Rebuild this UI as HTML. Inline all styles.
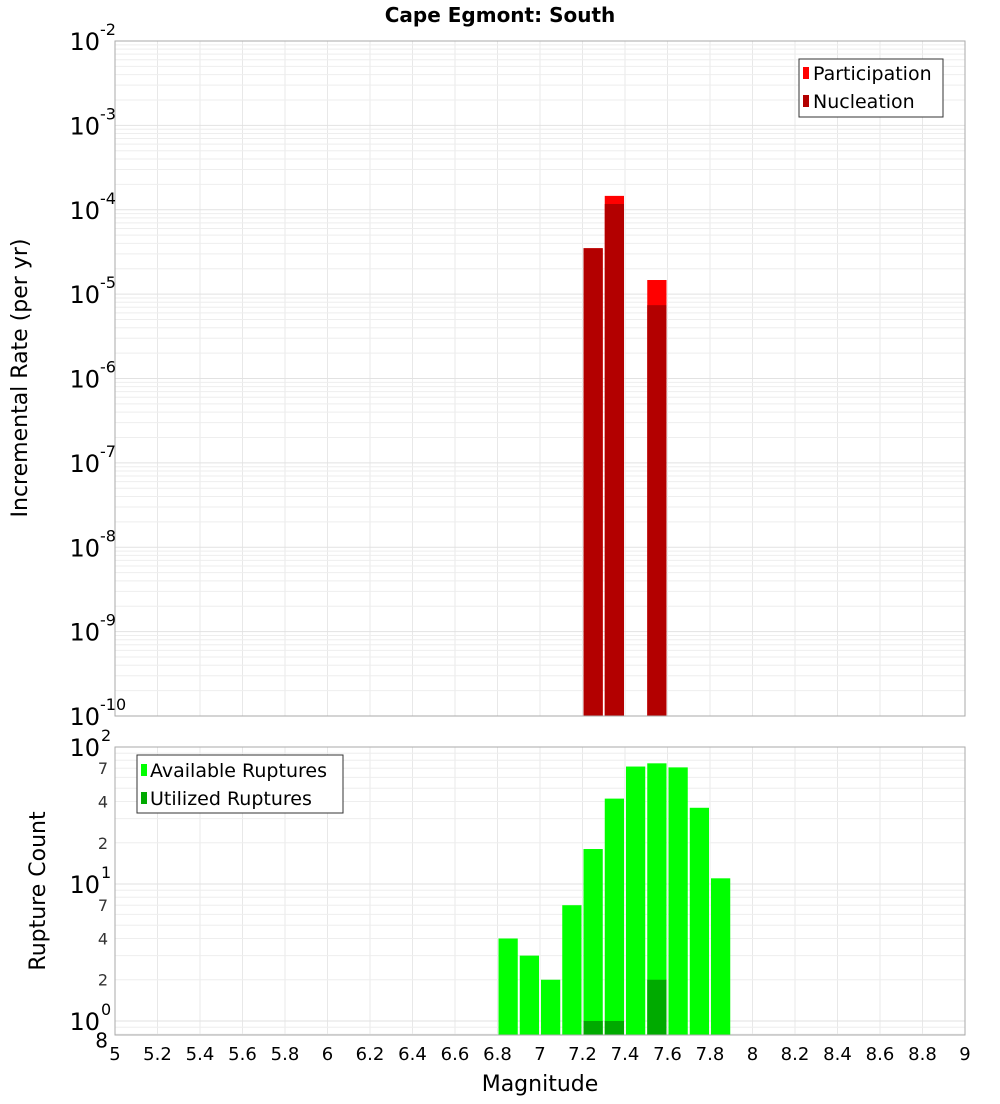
<!DOCTYPE html>
<html><head><meta charset="utf-8"><style>
body{margin:0;background:#fff;font-family:"DejaVu Sans","Liberation Sans",sans-serif;}
svg text{font-family:"DejaVu Sans","Liberation Sans",sans-serif;}
</style></head><body>
<svg id="chart" width="1000" height="1100" xmlns="http://www.w3.org/2000/svg">
<rect width="1000" height="1100" fill="#fff"/>
<text x="500" y="22" text-anchor="middle" font-size="20" font-weight="bold">Cape Egmont: South</text>
<g id="topPlot"></g>
<g id="botPlot"></g>
<text transform="translate(27,378) rotate(-90)" text-anchor="middle" font-size="22">Incremental Rate (per yr)</text>
<text transform="translate(45,891) rotate(-90)" text-anchor="middle" font-size="22">Rupture Count</text>
<text x="540" y="1091" text-anchor="middle" font-size="22">Magnitude</text>
<g id="legends">
<g>
<rect x="799" y="59" width="144" height="58" fill="#fff" stroke="#333"/>
<rect x="803" y="67" width="6" height="12" fill="#ff0000"/>
<text x="813" y="80" font-size="19">Participation</text>
<rect x="803" y="95" width="6" height="12" fill="#b30000"/>
<text x="813" y="108" font-size="19">Nucleation</text>
</g>
<g>
<rect x="137" y="755" width="206" height="58" fill="#fff" stroke="#333"/>
<rect x="141" y="764" width="6" height="12" fill="#00ff00"/>
<text x="150" y="777" font-size="19">Available Ruptures</text>
<rect x="141" y="792" width="6" height="12" fill="#00aa00"/>
<text x="150" y="805" font-size="19">Utilized Ruptures</text>
</g>
</g>
</svg>
<script>
const NS="http://www.w3.org/2000/svg";
const rateMags=[7.25,7.35,7.55];
const participation=[3.5e-5,1.46e-4,1.47e-5];
const nucleation=[3.5e-5,1.17e-4,7.4e-6];
const countMags=[6.85,6.95,7.05,7.15,7.25,7.35,7.45,7.55,7.65,7.75,7.85];
const available=[4,3,2,7,18,42,72,76,71,36,11];
const utilizedMags=[7.25,7.35,7.55];
const utilized=[1,1,2];
const xTicks=["5","5.2","5.4","5.6","5.8","6","6.2","6.4","6.6","6.8","7","7.2","7.4","7.6","7.8","8","8.2","8.4","8.6","8.8","9"];

const X0=115,X1=965;
const xs=m=>X0+(m-5)/4*(X1-X0);
const T0=41,T1=716;
const yTop=v=>T0+(-2-Math.log10(v))/8*(T1-T0);
const B0=747,B1=1035;
const yBot=v=>B0+(2-Math.log10(v))/(2-Math.log10(0.79))*(B1-B0);
function mk(p,tag,a,txt){const e=document.createElementNS(NS,tag);for(const k in a)e.setAttribute(k,a[k]);if(txt!==undefined)e.textContent=txt;p.appendChild(e);return e;}
const topG=document.getElementById('topPlot'),botG=document.getElementById('botPlot'),svgEl=document.getElementById('chart');
function grids(g,y0,y1,yf,lo,hi,minLo){
  for(let i=0;i<xTicks.length;i++){const x=xs(+xTicks[i]);mk(g,'line',{x1:x,x2:x,y1:y0,y2:y1,stroke:'#e8e8e8'});}
  for(let d=lo;d<hi;d++){for(let k=1;k<10;k++){const v=k*Math.pow(10,d);if(v<minLo)continue;const y=yf(v);if(y<y0||y>y1)continue;mk(g,'line',{x1:X0,x2:X1,y1:y,y2:y,stroke:k==1?'#e2e2e2':'#eeeeee'});}}
}
grids(topG,T0,T1,yTop,-10,-2,0);
grids(botG,B0,B1,yBot,-1,2,0.79);
const bw=xs(5.1)-X0-2;
for(let i=0;i<rateMags.length;i++){
  const x=xs(rateMags[i]-0.05)+1;
  const r=mk(topG,'rect',{x:x,y:yTop(participation[i]),width:bw,height:T1-yTop(participation[i]),fill:'#ff0000'});
  
  
  const n=mk(topG,'rect',{x:x,y:yTop(nucleation[i]),width:bw,height:T1-yTop(nucleation[i]),fill:'#b30000'});
  
  
}
for(let i=0;i<countMags.length;i++){
  const x=xs(countMags[i]-0.05)+1;
  const r=mk(botG,'rect',{x:x,y:yBot(available[i]),width:bw,height:B1-yBot(available[i]),fill:'#00ff00'});
  
  
}
for(let i=0;i<utilizedMags.length;i++){
  const x=xs(utilizedMags[i]-0.05)+1;
  const r=mk(botG,'rect',{x:x,y:yBot(utilized[i]),width:bw,height:B1-yBot(utilized[i]),fill:'#00aa00'});
  
  
}
mk(topG,'rect',{x:X0,y:T0,width:X1-X0,height:T1-T0,fill:'none',stroke:'#aaa'});
mk(botG,'rect',{x:X0,y:B0,width:X1-X0,height:B1-B0,fill:'none',stroke:'#aaa'});
for(let d=-10;d<=-2;d++){
  const y=yTop(Math.pow(10,d));
  const t=mk(svgEl,'text',{x:100,y:y+9,'text-anchor':'end','font-size':24},'10');
  
  
  mk(svgEl,'text',{x:100,y:y-6,'font-size':16},String(d));
}
for(let d=0;d<=2;d++){
  const y=yBot(Math.pow(10,d));
  const t=mk(svgEl,'text',{x:100,y:y+9,'text-anchor':'end','font-size':24},'10');
  
  
  mk(svgEl,'text',{x:101,y:y-6,'font-size':16},String(d));
  if(d<2)for(const k of [2,4,7]){const yy=yBot(k*Math.pow(10,d));mk(svgEl,'text',{x:108,y:yy+6,'text-anchor':'end','font-size':16,fill:'#333'},String(k));}
}
mk(svgEl,'text',{x:108,y:yBot(0.8)+13,'text-anchor':'end','font-size':20},'8');
for(let i=0;i<xTicks.length;i++){
  const t=mk(svgEl,'text',{x:xs(+xTicks[i]),y:1060,'text-anchor':'middle','font-size':18},xTicks[i]);
  
  
}
svgEl.appendChild(document.getElementById('legends'));
</script>
</body></html>
